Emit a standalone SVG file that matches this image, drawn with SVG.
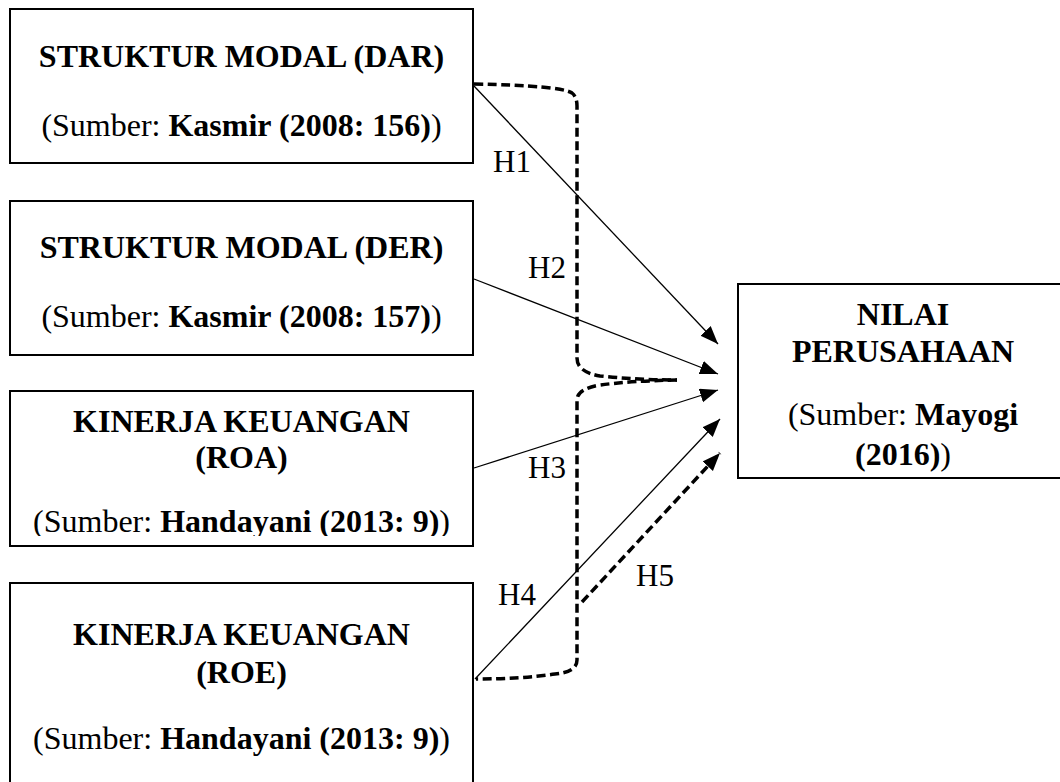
<svg xmlns="http://www.w3.org/2000/svg" width="1060" height="782" viewBox="0 0 1060 782">
<style>
.box{fill:#fff;stroke:#000;stroke-width:2}
.t{font-family:"Liberation Serif","Times New Roman",serif;font-size:32px;fill:#000;text-anchor:middle}
.b{font-weight:bold}
.lbl{font-family:"Liberation Serif","Times New Roman",serif;font-size:31px;fill:#000}
.ln{fill:none;stroke:#000;stroke-width:1.3}
.dash{fill:none;stroke:#000;stroke-width:3.5;stroke-dasharray:9,4.5}
</style>
<defs>
<marker id="ah" markerUnits="userSpaceOnUse" markerWidth="19" markerHeight="15" refX="18" refY="7" orient="auto">
<path d="M0,0 L18,7 L0,14 z" fill="#000"/>
</marker>
<clipPath id="clipRoa"><rect x="10" y="390" width="463" height="146"/></clipPath>
</defs>
<rect width="1060" height="782" fill="#fff"/>

<g id="node-dar">
<rect class="box" x="10" y="9" width="463" height="154"/>
<text class="t b" x="241.5" y="67">STRUKTUR MODAL (DAR)</text>
<text class="t" x="241.5" y="136">(Sumber: <tspan class="b">Kasmir (2008: 156)</tspan>)</text>
</g>

<g id="node-der">
<rect class="box" x="10" y="201" width="463" height="154"/>
<text class="t b" x="241.5" y="258">STRUKTUR MODAL (DER)</text>
<text class="t" x="241.5" y="327">(Sumber: <tspan class="b">Kasmir (2008: 157)</tspan>)</text>
</g>

<g id="node-roa">
<rect class="box" x="10" y="391" width="463" height="155"/>
<text class="t b" x="241.5" y="432">KINERJA KEUANGAN</text>
<text class="t b" x="241.5" y="468">(ROA)</text>
<text class="t" x="241.5" y="532" clip-path="url(#clipRoa)">(Sumber: <tspan class="b">Handayani (2013: 9)</tspan>)</text>
</g>

<g id="node-roe">
<rect class="box" x="10" y="583" width="463" height="210"/>
<text class="t b" x="241.5" y="645">KINERJA KEUANGAN</text>
<text class="t b" x="241.5" y="683">(ROE)</text>
<text class="t" x="241.5" y="749">(Sumber: <tspan class="b">Handayani (2013: 9)</tspan>)</text>
</g>

<g id="node-nilai">
<rect class="box" x="738" y="284" width="330" height="194"/>
<text class="t b" x="903" y="325">NILAI</text>
<text class="t b" x="903" y="362">PERUSAHAAN</text>
<text class="t" x="903" y="425">(Sumber: <tspan class="b">Mayogi</tspan></text>
<text class="t" x="903" y="465"><tspan class="b">(2016)</tspan>)</text>
</g>

<g id="connectors">
<path class="dash" d="M474,84 C530,85 565,88 572,93 Q577,97 577,106 L577,358 Q577,372 600,376 Q640,380 677,380"/>
<path class="dash" d="M677,380 Q630,381 600,385 Q577,389 577,400 L577,660 Q577,672 555,674 Q520,679 476,679"/>
<line class="ln" x1="474" y1="86" x2="718" y2="344" marker-end="url(#ah)"/>
<line class="ln" x1="474" y1="279" x2="718" y2="374" marker-end="url(#ah)"/>
<line class="ln" x1="474" y1="468" x2="718" y2="390" marker-end="url(#ah)"/>
<line class="ln" x1="475" y1="679" x2="720" y2="419" marker-end="url(#ah)"/>
<line class="dash" x1="582" y1="602" x2="720" y2="453" marker-end="url(#ah)"/>
<text class="lbl" x="493" y="172">H1</text>
<text class="lbl" x="528" y="278">H2</text>
<text class="lbl" x="528" y="478">H3</text>
<text class="lbl" x="498" y="605">H4</text>
<text class="lbl" x="636" y="586">H5</text>
</g>
</svg>
